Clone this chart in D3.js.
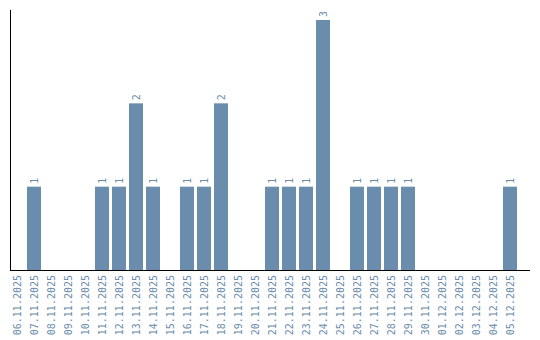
<!DOCTYPE html>
<html>
<head>
<meta charset="utf-8">
<script src="https://cdn.jsdelivr.net/npm/d3@7"></script>
<style>
  body { margin: 0; background: #fff; }
  svg { display: block; font-family: "DejaVu Sans Mono", monospace; }
</style>
</head>
<body>
<svg id="chart" width="540" height="340"></svg>
<script>
const dates = [
  "06.11.2025", "07.11.2025", "08.11.2025", "09.11.2025", "10.11.2025",
  "11.11.2025", "12.11.2025", "13.11.2025", "14.11.2025", "15.11.2025",
  "16.11.2025", "17.11.2025", "18.11.2025", "19.11.2025", "20.11.2025",
  "21.11.2025", "22.11.2025", "23.11.2025", "24.11.2025", "25.11.2025",
  "26.11.2025", "27.11.2025", "28.11.2025", "29.11.2025", "30.11.2025",
  "01.12.2025", "02.12.2025", "03.12.2025", "04.12.2025", "05.12.2025"
];
const counts = [
  0, 1, 0, 0, 0,
  1, 1, 2, 1, 0,
  1, 1, 2, 0, 0,
  1, 1, 1, 3, 0,
  1, 1, 1, 1, 0,
  0, 0, 0, 0, 1
];

const width = 540;
const height = 340;
const margin = { top: 10, right: 10, bottom: 70, left: 10 };
const barColor = "#6a8cad";

const svg = d3.select("#chart");

const x = d3.scaleBand()
  .domain(dates)
  .range([margin.left, 517])
  .paddingInner(3 / 17)
  .paddingOuter(0);

const y = d3.scaleLinear()
  .domain([0, 3])
  .range([height - margin.bottom, 20]);

const data = dates.map((d, i) => ({ date: d, value: counts[i] }));

// bars
svg.append("g")
  .selectAll("rect")
  .data(data.filter((d) => d.value > 0))
  .join("rect")
  .attr("x", (d) => x(d.date))
  .attr("y", (d) => y(d.value))
  .attr("width", x.bandwidth())
  .attr("height", (d) => y(0) - y(d.value))
  .attr("fill", barColor);

// value labels
svg.append("g")
  .selectAll("text")
  .data(data.filter((d) => d.value > 0))
  .join("text")
  .attr("transform", (d) =>
    `translate(${x(d.date) + x.bandwidth() / 2 + 3.5},${y(d.value) - 3}) rotate(-90)`)
  .attr("font-size", 10)
  .attr("fill", barColor)
  .text((d) => d.value);

// axes lines
svg.append("line")
  .attr("x1", margin.left + 0.5).attr("x2", margin.left + 0.5)
  .attr("y1", margin.top).attr("y2", y(0))
  .attr("stroke", "#000");

svg.append("line")
  .attr("x1", margin.left).attr("x2", 530)
  .attr("y1", y(0) + 0.5).attr("y2", y(0) + 0.5)
  .attr("stroke", "#000");

// x tick labels
svg.append("g")
  .selectAll("text")
  .data(dates)
  .join("text")
  .attr("transform", (d) =>
    `translate(${x(d) + x.bandwidth() / 2 + 3.5},${y(0) + 5}) rotate(-90)`)
  .attr("text-anchor", "end")
  .attr("font-size", 10)
  .attr("fill", barColor)
  .text((d) => d);
</script>
</body>
</html>
